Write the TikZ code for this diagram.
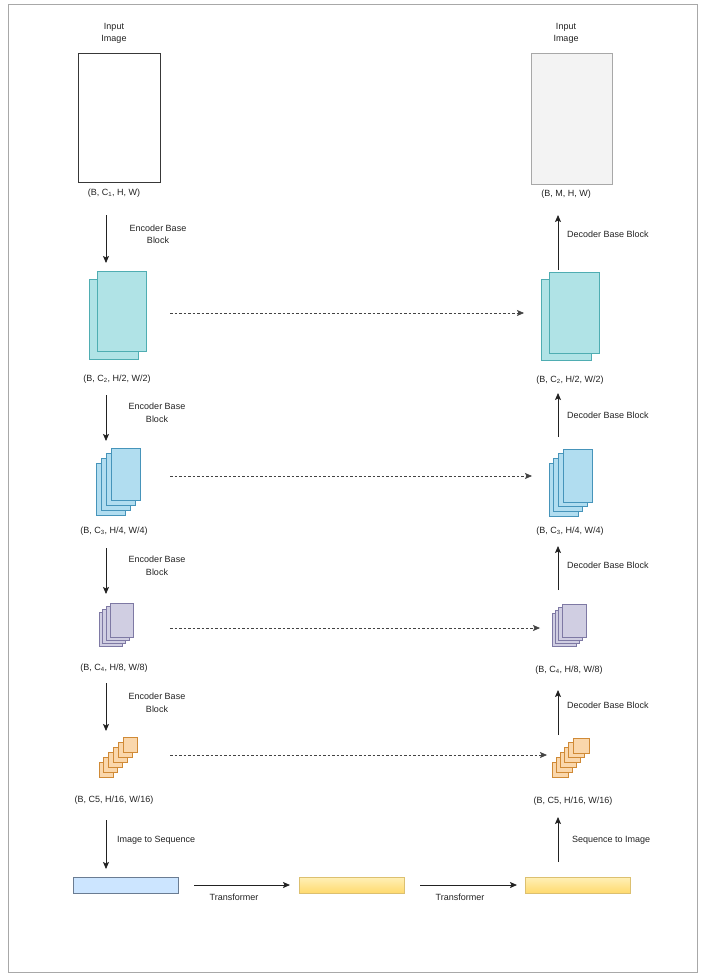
\documentclass[tikz,border=0pt]{standalone}
\usepackage{fontspec}
\setmainfont{Liberation Sans}
\usetikzlibrary{arrows.meta}
\definecolor{cyanF}{HTML}{B0E3E6}\definecolor{cyanD}{HTML}{4FADB2}
\definecolor{blueF}{HTML}{B1DDF0}\definecolor{blueD}{HTML}{4694BA}
\definecolor{purF}{HTML}{D0CEE2}\definecolor{purD}{HTML}{7E79A4}
\definecolor{orgF}{HTML}{FAD7AC}\definecolor{orgD}{HTML}{D08A36}
\definecolor{seqF}{HTML}{CCE5FF}\definecolor{seqD}{HTML}{6A7C92}
\definecolor{yelT}{HTML}{FFF0B8}\definecolor{yelB}{HTML}{FFDA6E}\definecolor{yelD}{HTML}{DCC070}
\definecolor{greyF}{HTML}{F3F3F3}\definecolor{greyD}{HTML}{A8A8A8}
\definecolor{ink}{HTML}{222222}
\begin{document}
\begin{tikzpicture}[x=1pt,y=-1pt,
  every node/.style={font=\fontsize{9}{12.5}\selectfont, text=ink, inner sep=0pt, outer sep=0pt},
  box/.style={draw, line width=0.9pt, anchor=north west},
  cy/.style={box, fill=cyanF, draw=cyanD},
  bl/.style={box, fill=blueF, draw=blueD},
  pu/.style={box, fill=purF, draw=purD},
  og/.style={box, fill=orgF, draw=orgD},
  seqbox/.style={draw=seqD, fill=seqF, line width=0.9pt, minimum width=105, minimum height=16},
  ybox/.style={draw=yelD, top color=yelT, bottom color=yelB, line width=0.9pt, minimum width=105, minimum height=16},
  arr/.style={draw=ink, line width=0.8pt, -{Stealth[length=7pt,width=6pt,inset=1.5pt]}},
  darr/.style={draw=ink!85, line width=0.7pt, dash pattern=on 2.5pt off 2pt, -{Stealth[length=7pt,width=6pt,inset=1.5pt]}},
  lab/.style={align=center}]
\useasboundingbox (0,0) rectangle (702,974);
\draw[greyD, line width=1pt] (8.5,4.5) rectangle (697.5,972);

% input images
\node[draw=ink!90, line width=0.9pt, minimum width=82, minimum height=129] (imgL) at (119,117.5) {};
\node[draw=greyD, fill=greyF, line width=0.9pt, minimum width=81, minimum height=131] (imgR) at (571.5,118.5) {};
\node[lab] (inL) at (114,33.5) {Input\\Image};
\node[lab] (inR) at (566,33.5) {Input\\Image};

% left stacks
\foreach \i in {1,0} \node[cy, minimum width=49, minimum height=80] (lc\i) at (97-8*\i, 271+8*\i) {};
\foreach \i in {3,2,1,0} \node[bl, minimum width=29, minimum height=52] (lb\i) at (111-5*\i, 448+5*\i) {};
\foreach \i in {3,2,1,0} \node[pu, minimum width=23, minimum height=34] (lp\i) at (110-3.67*\i, 603+3.2*\i) {};
\foreach \i in {5,4,3,2,1,0} \node[og, minimum width=14, minimum height=15] (lo\i) at (123-4.8*\i, 737+5*\i) {};
% right stacks
\foreach \i in {1,0} \node[cy, minimum width=50, minimum height=81] (rc\i) at (549-8*\i, 272+7.5*\i) {};
\foreach \i in {3,2,1,0} \node[bl, minimum width=29, minimum height=53] (rb\i) at (563-4.67*\i, 449+4.67*\i) {};
\foreach \i in {3,2,1,0} \node[pu, minimum width=24, minimum height=33] (rp\i) at (562-3.33*\i, 604+3.2*\i) {};
\foreach \i in {5,4,3,2,1,0} \node[og, minimum width=16, minimum height=15] (ro\i) at (573-4.2*\i, 738+4.8*\i) {};

% dimension labels
\node (dL1) at (114,193) {(B, C\textsubscript{1}, H, W)};
\node (dL2) at (117,379) {(B, C\textsubscript{2}, H/2, W/2)};
\node (dL3) at (114,531) {(B, C\textsubscript{3}, H/4, W/4)};
\node (dL4) at (114,668) {(B, C\textsubscript{4}, H/8, W/8)};
\node (dL5) at (114,800) {(B, C5, H/16, W/16)};
\node (dR1) at (566,194) {(B, M, H, W)};
\node (dR2) at (570,380) {(B, C\textsubscript{2}, H/2, W/2)};
\node (dR3) at (570,531) {(B, C\textsubscript{3}, H/4, W/4)};
\node (dR4) at (569,670) {(B, C\textsubscript{4}, H/8, W/8)};
\node (dR5) at (573,801) {(B, C5, H/16, W/16)};

% arrow labels
\node[lab] (eb1) at (158,234.5) {Encoder Base\\Block};
\node[lab] (eb2) at (157,413) {Encoder Base\\Block};
\node[lab] (eb3) at (157,566) {Encoder Base\\Block};
\node[lab] (eb4) at (157,703) {Encoder Base\\Block};
\node[anchor=west] (i2s) at (117,840) {Image to Sequence};
\node[anchor=west] (db1) at (567,234) {Decoder Base Block};
\node[anchor=west] (db2) at (567,415) {Decoder Base Block};
\node[anchor=west] (db3) at (567,565) {Decoder Base Block};
\node[anchor=west] (db4) at (567,705) {Decoder Base Block};
\node[anchor=west] (s2i) at (572,840) {Sequence to Image};
\node (tf1) at (234,897) {Transformer};
\node (tf2) at (460,897) {Transformer};

% sequence boxes
\node[seqbox] (seq1) at (125.5,885) {};
\node[ybox] (seq2) at (351.5,885) {};
\node[ybox] (seq3) at (577.5,885) {};

% connector end points
\coordinate (a1s) at (106,215); \coordinate (a1e) at (106,263);
\coordinate (a2s) at (106,395); \coordinate (a2e) at (106,441);
\coordinate (a3s) at (106,548); \coordinate (a3e) at (106,594);
\coordinate (a4s) at (106,683); \coordinate (a4e) at (106,731);
\coordinate (a5s) at (106,820); \coordinate (a5e) at (106,869);
\coordinate (b1s) at (558,270); \coordinate (b1e) at (558,215);
\coordinate (b2s) at (558,437); \coordinate (b2e) at (558,393);
\coordinate (b3s) at (558,590); \coordinate (b3e) at (558,546);
\coordinate (b4s) at (558,735); \coordinate (b4e) at (558,690);
\coordinate (b5s) at (558,862); \coordinate (b5e) at (558,817);
\coordinate (t1s) at (194,885); \coordinate (t1e) at (290,885);
\coordinate (t2s) at (420,885); \coordinate (t2e) at (517,885);
\coordinate (k1s) at (170,313); \coordinate (k1e) at (524,313);
\coordinate (k2s) at (170,476); \coordinate (k2e) at (532,476);
\coordinate (k3s) at (170,628); \coordinate (k3e) at (540,628);
\coordinate (k4s) at (170,755); \coordinate (k4e) at (547,755);

\foreach \n in {1,...,5} {\draw[arr] (a\n s) -- (a\n e); \draw[arr] (b\n s) -- (b\n e);}
\draw[arr] (t1s) -- (t1e);
\draw[arr] (t2s) -- (t2e);
\foreach \n in {1,...,4} \draw[darr] (k\n s) -- (k\n e);
\end{tikzpicture}
\end{document}
